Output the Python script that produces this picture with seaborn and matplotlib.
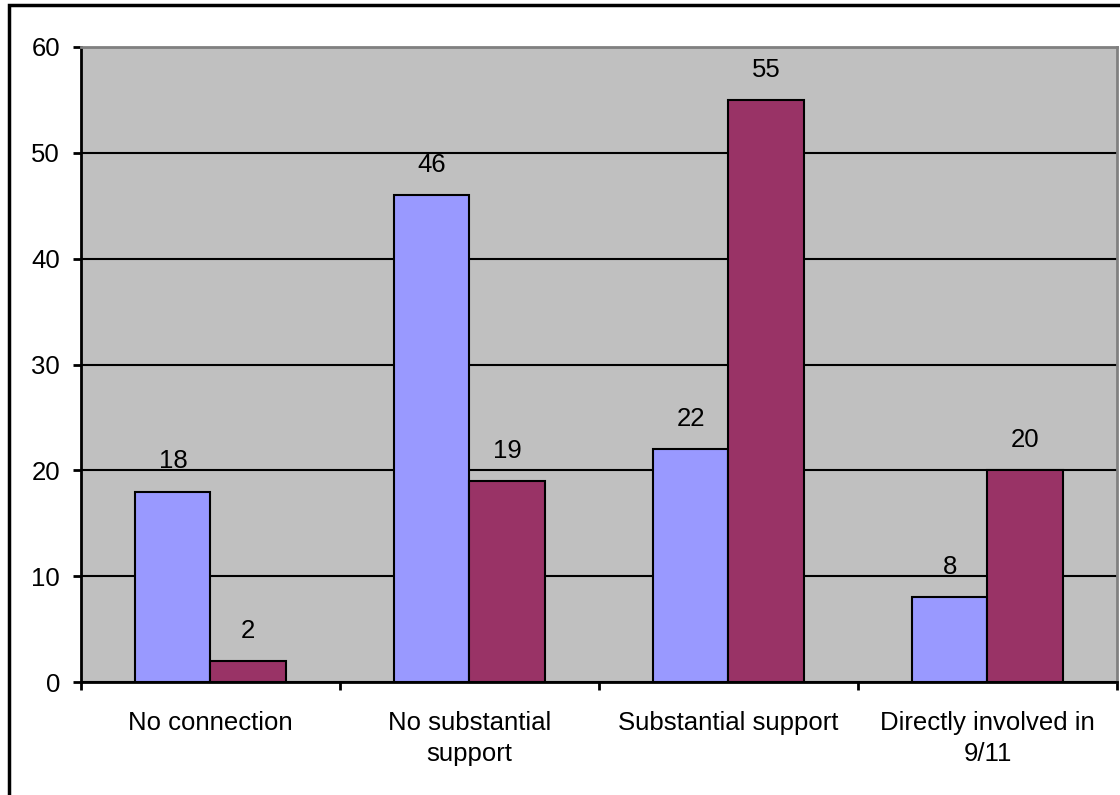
import matplotlib
matplotlib.use("Agg")
import matplotlib.pyplot as plt
import matplotlib.patches as mpatches
import seaborn as sns
import pandas as pd

# Chart data
categories = ["No connection", "No substantial\nsupport", "Substantial support", "Directly involved in\n9/11"]
series_names = ["Series 1", "Series 2"]
series_1 = [18, 46, 22, 8]
series_2 = [2, 19, 55, 20]
yticks = [0, 10, 20, 30, 40, 50, 60]

df = pd.DataFrame({
    "category": categories * 2,
    "series": [series_names[0]] * 4 + [series_names[1]] * 4,
    "value": series_1 + series_2,
})

sns.set_style("white")
plt.rcParams["font.family"] = ["Liberation Sans", "DejaVu Sans"]
plt.rcParams["text.color"] = "black"

fig = plt.figure(figsize=(11.2, 7.95), dpi=100)
ax = fig.add_axes([0.0723, 0.1421, 0.925, 0.7988])
ax.set_facecolor("#C0C0C0")

sns.barplot(
    data=df, x="category", y="value", hue="series",
    palette=["#9999FF", "#993366"], saturation=1, width=0.58, gap=0,
    edgecolor="black", linewidth=1.5, legend=False, ax=ax, zorder=3,
)

for cont in ax.containers:
    ax.bar_label(cont, fmt="%d", padding=13, fontsize=18.5, color="black")

ax.set_ylim(0, 60)
ax.set_xlim(-0.5, 3.5)
ax.set_yticks(yticks)
ax.yaxis.grid(True, color="black", linewidth=1.5, zorder=1)
ax.set_axisbelow(True)
ax.set_xlabel("")
ax.set_ylabel("")

# category boundaries as minor ticks, labels on major (hidden) ticks
ax.set_xticks([-0.5, 0.5, 1.5, 2.5, 3.5], minor=True)
ax.tick_params(axis="x", which="major", length=0, pad=21, labelsize=18.5, labelcolor="black")
ax.tick_params(axis="x", which="minor", length=6, width=2, direction="out", color="black", bottom=True)
ax.tick_params(axis="y", length=6, width=2, direction="out", color="black", pad=9,
               labelsize=18.5, labelcolor="black", left=True)
for lbl in ax.get_xticklabels():
    lbl.set_linespacing(1.35)

for side in ["left", "bottom"]:
    ax.spines[side].set_color("black")
    ax.spines[side].set_linewidth(2)
for side in ["top", "right"]:
    ax.spines[side].set_color("#808080")
    ax.spines[side].set_linewidth(2)

# outer chart border
fig.patches.append(mpatches.Rectangle(
    (9 / 1120, -0.1), 1.2, 1.1 - 5 / 795, transform=fig.transFigure,
    fill=False, edgecolor="black", linewidth=2.5, clip_on=False,
))

fig.savefig("out.png", dpi=100, facecolor="white")
